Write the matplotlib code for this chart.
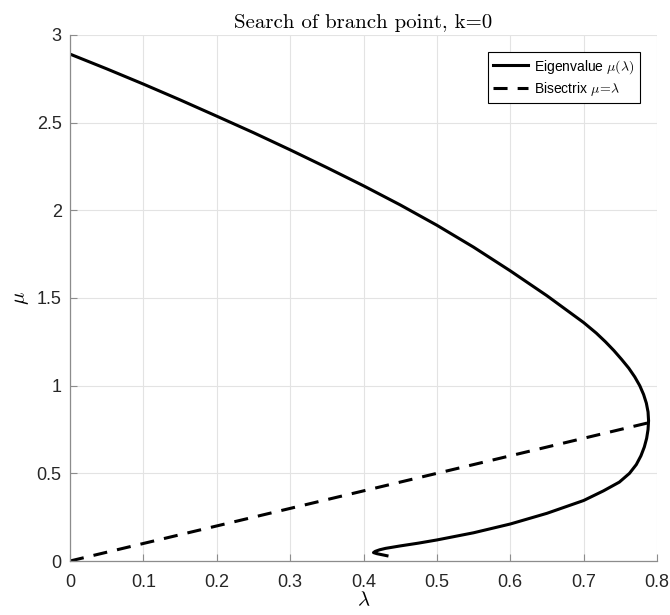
import matplotlib
matplotlib.use("Agg")
import matplotlib.pyplot as plt

# Eigenvalue curve mu(lambda): upper branch, round the fold, lower branch, hook
lam = [0.000, 0.050, 0.100, 0.150, 0.200, 0.250, 0.300, 0.350, 0.400, 0.450,
       0.500, 0.550, 0.600, 0.650, 0.700, 0.7172, 0.7298, 0.7413, 0.7517, 0.7615,
       0.7697, 0.7765, 0.7817, 0.7855, 0.7878, 0.7885, 0.7878, 0.7859, 0.7827, 0.7781,
       0.7718, 0.7625, 0.7487, 0.7270, 0.7000, 0.650, 0.600, 0.550, 0.500, 0.475,
       0.450, 0.430, 0.422, 0.416, 0.4136, 0.418, 0.432]
mu = [2.891, 2.807, 2.720, 2.630, 2.537, 2.443, 2.345, 2.244, 2.140, 2.031,
      1.915, 1.790, 1.655, 1.513, 1.360, 1.300, 1.250, 1.200, 1.150, 1.100,
      1.050, 1.000, 0.950, 0.900, 0.850, 0.800, 0.750, 0.700, 0.650, 0.600,
      0.550, 0.500, 0.450, 0.400, 0.345, 0.272, 0.211, 0.161, 0.120, 0.102,
      0.086, 0.072, 0.064, 0.055, 0.048, 0.042, 0.030]

# Bisectrix mu = lambda up to the fold
bis = [0.0, 0.789]

xticks = [0, 0.1, 0.2, 0.3, 0.4, 0.5, 0.6, 0.7, 0.8]
yticks = [0, 0.5, 1, 1.5, 2, 2.5, 3]

plt.rcParams['mathtext.fontset'] = 'cm'
plt.rcParams['font.family'] = ['Liberation Sans', 'DejaVu Sans']

fig = plt.figure(figsize=(6.7, 6.15), dpi=100)
ax = fig.add_axes([0.1045, 0.0878, 0.8761, 0.8553])

ax.plot(lam, mu, color='black', lw=2.2, solid_joinstyle='round',
        label=r'Eigenvalue $\mu(\lambda)$')
ax.plot(bis, bis, color='black', lw=2.2, dashes=(4.6, 3.3),
        label=r'Bisectrix $\mu\!=\!\lambda$')

ax.set_xlim(0, 0.8)
ax.set_ylim(0, 3)
ax.set_xticks(xticks)
ax.set_yticks(yticks)
ax.set_xticklabels(['0', '0.1', '0.2', '0.3', '0.4', '0.5', '0.6', '0.7', '0.8'])
ax.set_yticklabels(['0', '0.5', '1', '1.5', '2', '2.5', '3'])

ax.grid(True, color='#e3e3e3', lw=0.8)
ax.set_axisbelow(True)
for side in ['top', 'right']:
    ax.spines[side].set_visible(False)
for side in ['left', 'bottom']:
    ax.spines[side].set_color('#8c8c8c')
    ax.spines[side].set_linewidth(0.9)
ax.tick_params(direction='in', length=5, width=0.8, color='#8c8c8c',
               labelsize=13, labelcolor='#262626')
ax.tick_params(axis='x', pad=9)
ax.tick_params(axis='y', pad=6)

ax.set_xlabel(r'$\lambda$', fontsize=15, labelpad=0)
ax.set_ylabel(r'$\mu$', fontsize=15, labelpad=4)
ax.set_title('Search of branch point, k=0', family='cmr10', fontsize=15, pad=5)

leg = ax.legend(loc='upper right', fontsize=10, handlelength=2.5,
                handletextpad=0.4, fancybox=False, framealpha=1,
                edgecolor='black', borderaxespad=1.25, labelspacing=0.3)
leg.get_frame().set_linewidth(0.8)

fig.savefig('out.png', dpi=100)
